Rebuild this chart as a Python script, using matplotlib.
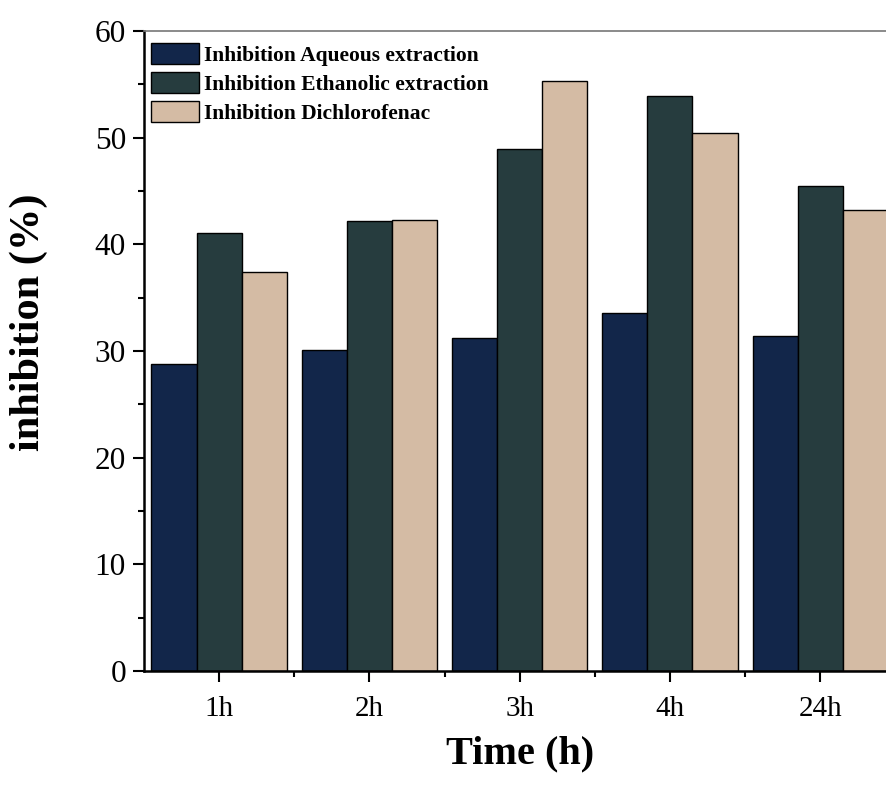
import numpy as np
import matplotlib
matplotlib.use("Agg")
import matplotlib.pyplot as plt
from matplotlib.ticker import MultipleLocator, FixedLocator

plt.rcParams['font.family'] = ['Liberation Serif', 'DejaVu Serif']

times = ["1h", "2h", "3h", "4h", "24h"]
aqueous = [28.8, 30.1, 31.2, 33.6, 31.4]
ethanolic = [41.1, 42.2, 48.9, 53.9, 45.5]
diclofenac = [37.4, 42.3, 55.3, 50.4, 43.2]

labels = ["Inhibition Aqueous extraction",
          "Inhibition Ethanolic extraction",
          "Inhibition Dichlorofenac"]
colors = ["#12264a", "#263c3e", "#d4bba4"]

fig = plt.figure(figsize=(8.86, 7.87), dpi=100)
ax = fig.add_axes([0.1625, 0.1474, 0.848, 0.8132])

x = np.arange(1, len(times) + 1)
w = 0.3
for i, (vals, lab, c) in enumerate(zip([aqueous, ethanolic, diclofenac], labels, colors)):
    ax.bar(x + (i - 1) * w, vals, w, color=c, edgecolor="black", linewidth=1.0, label=lab)

ax.set_xlim(0.5, 5.5)
ax.set_ylim(0, 60)
ax.set_xticks(x)
ax.set_xticklabels(times)
ax.xaxis.set_minor_locator(FixedLocator(np.arange(1.5, 5.5, 1)))
ax.yaxis.set_major_locator(MultipleLocator(10))
ax.yaxis.set_minor_locator(MultipleLocator(5))
ax.tick_params(axis="both", which="major", direction="out", length=8, width=1.5, labelsize=21, pad=5)
ax.tick_params(axis="x", which="major", pad=10)
ax.tick_params(axis="y", which="major", labelsize=22.5)
ax.tick_params(axis="both", which="minor", direction="out", length=4.5, width=1.5)

for s in ["left", "bottom"]:
    ax.spines[s].set_linewidth(1.8)
ax.spines["top"].set_color("#777777")
ax.spines["top"].set_linewidth(1.2)

ax.set_xlabel("Time (h)", fontsize=29, fontweight="bold", labelpad=10)
ax.set_ylabel("inhibition (%)", fontsize=30.5, fontweight="bold")
ax.yaxis.set_label_coords(-0.128, 0.545)

ax.legend(loc="upper left", bbox_to_anchor=(0.010, 0.981), frameon=False,
          prop={"weight": "bold", "size": 15.5},
          handlelength=2.2, handleheight=1.1, labelspacing=0.3, handletextpad=0.25,
          borderaxespad=0, borderpad=0)

plt.savefig("out.png", dpi=100)
plt.close()
